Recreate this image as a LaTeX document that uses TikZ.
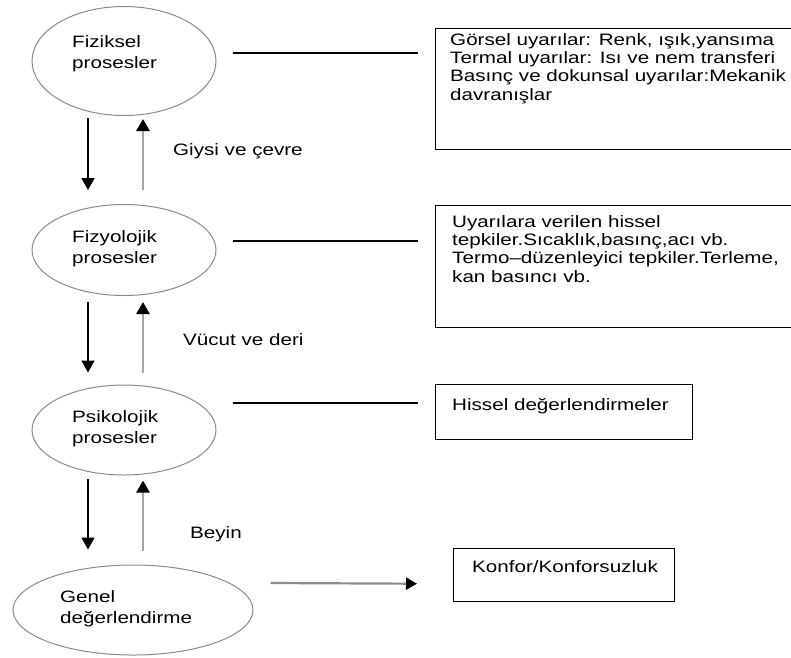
\documentclass[tikz,border=0pt]{standalone}
\usepackage{fontspec}
\setmainfont{Liberation Sans}[FakeStretch=1.25]
\usetikzlibrary{shapes.geometric,arrows.meta}

\definecolor{rimgray}{HTML}{8A8A8A}
\definecolor{upgray}{HTML}{A4A4A4}
\definecolor{outgray}{HTML}{8C8C8C}

\tikzset{
  proc/.style={draw=rimgray, line width=1pt, ellipse, inner sep=0pt},
  infobox/.style={draw, line width=1.4pt, rectangle, inner sep=0pt, anchor=north west},
  txt/.style={anchor=north west, inner sep=0pt, align=left, font=\fontsize{16.5}{18.3}\selectfont},
  ptxt/.style={txt, font=\fontsize{16.5}{21}\selectfont},
  link/.style={line width=1.4pt},
  downarr/.style={line width=1.8pt, -{Triangle[length=12pt,width=13pt]}},
  uparr/.style={upgray, line width=2.6pt, -{Triangle[length=12pt,width=13pt,color=black]}},
  outarr/.style={outgray, line width=2.2pt, -{Triangle[length=11pt,width=12pt,color=black]}}
}

\begin{document}
\begin{tikzpicture}[x=1pt, y=-1pt]
\useasboundingbox (0,0) rectangle (791,657);

% processes on the left
\node[proc, minimum width=184pt, minimum height=109pt] (fiz) at (124,61) {};
\node[proc, minimum width=184pt, minimum height=91pt] (fizy) at (124,250) {};
\node[proc, minimum width=184pt, minimum height=90pt] (psi) at (124,430) {};
\node[proc, minimum width=240pt, minimum height=90pt] (gen) at (133,610) {};

\node[ptxt] (fiztxt) at (72,35) {Fiziksel\\prosesler};
\node[ptxt] (fizytxt) at (72,230) {Fizyolojik\\prosesler};
\node[ptxt] (psitxt) at (72,410) {Psikolojik\\prosesler};
\node[ptxt] (gentxt) at (60,590) {Genel\\değerlendirme};

% boxes on the right
\node[infobox, minimum width=365pt, minimum height=121pt] (gorsel) at (435,28) {};
\node[infobox, minimum width=365pt, minimum height=122pt] (tepki) at (435,205) {};
\node[infobox, minimum width=257pt, minimum height=55pt] (hissel) at (435,384) {};
\node[infobox, minimum width=221pt, minimum height=53pt] (konfor) at (453,548) {};

\node[txt] (gorseltxt) at (450,33) {Görsel uyarılar: Renk, ışık,yansıma\\Termal uyarılar: Isı ve nem transferi\\Basınç ve dokunsal uyarılar:Mekanik\\davranışlar};
\node[txt] (tepkitxt) at (452,215) {Uyarılara verilen hissel\\tepkiler.Sıcaklık,basınç,acı vb.\\Termo–düzenleyici tepkiler.Terleme,\\kan basıncı vb.};
\node[txt] (hisseltxt) at (452,398) {Hissel değerlendirmeler};
\node[txt] (konfortxt) at (472,560) {Konfor/Konforsuzluk};

% labels between the arrows
\node[txt] (giysi) at (173,143) {Giysi ve çevre};
\node[txt] (vucut) at (183,333) {Vücut ve deri};
\node[txt] (beyin) at (190,526) {Beyin};

% lines to the boxes
\draw[link] ([xshift=16pt,yshift=8pt]fiz.east) -- ([xshift=-17pt,yshift=-25pt]gorsel.north west);
\draw[link] ([xshift=16pt,yshift=9pt]fizy.east) -- ([xshift=-17pt,yshift=-36pt]tepki.north west);
\draw[link] ([xshift=16pt,yshift=27pt]psi.east) -- ([xshift=-17pt,yshift=-19pt]hissel.north west);
\draw[outarr] ([xshift=17pt,yshift=27pt]gen.east) -- ([xshift=-36pt,yshift=-8.5pt]konfor.west);

% up and down arrows
\draw[downarr, shorten <=2pt, shorten >=14pt] ([xshift=-36pt]fiz.south) -- ([xshift=-36pt]fiz.south |- fizy.north);
\draw[uparr, shorten <=14pt, shorten >=3pt] ([xshift=19pt]fiz.south |- fizy.north) -- ([xshift=19pt]fiz.south);
\draw[downarr, shorten <=6pt, shorten >=12pt] ([xshift=-36pt]fizy.south) -- ([xshift=-36pt]fizy.south |- psi.north);
\draw[uparr, shorten <=12pt, shorten >=6pt] ([xshift=19pt]fizy.south |- psi.north) -- ([xshift=19pt]fizy.south);
\draw[downarr, shorten <=3pt, shorten >=15pt] ([xshift=-36pt]psi.south) -- ([xshift=-36pt]psi.south |- gen.north);
\draw[uparr, shorten <=14pt, shorten >=5pt] ([xshift=19pt]psi.south |- gen.north) -- ([xshift=19pt]psi.south);
\end{tikzpicture}
\end{document}
